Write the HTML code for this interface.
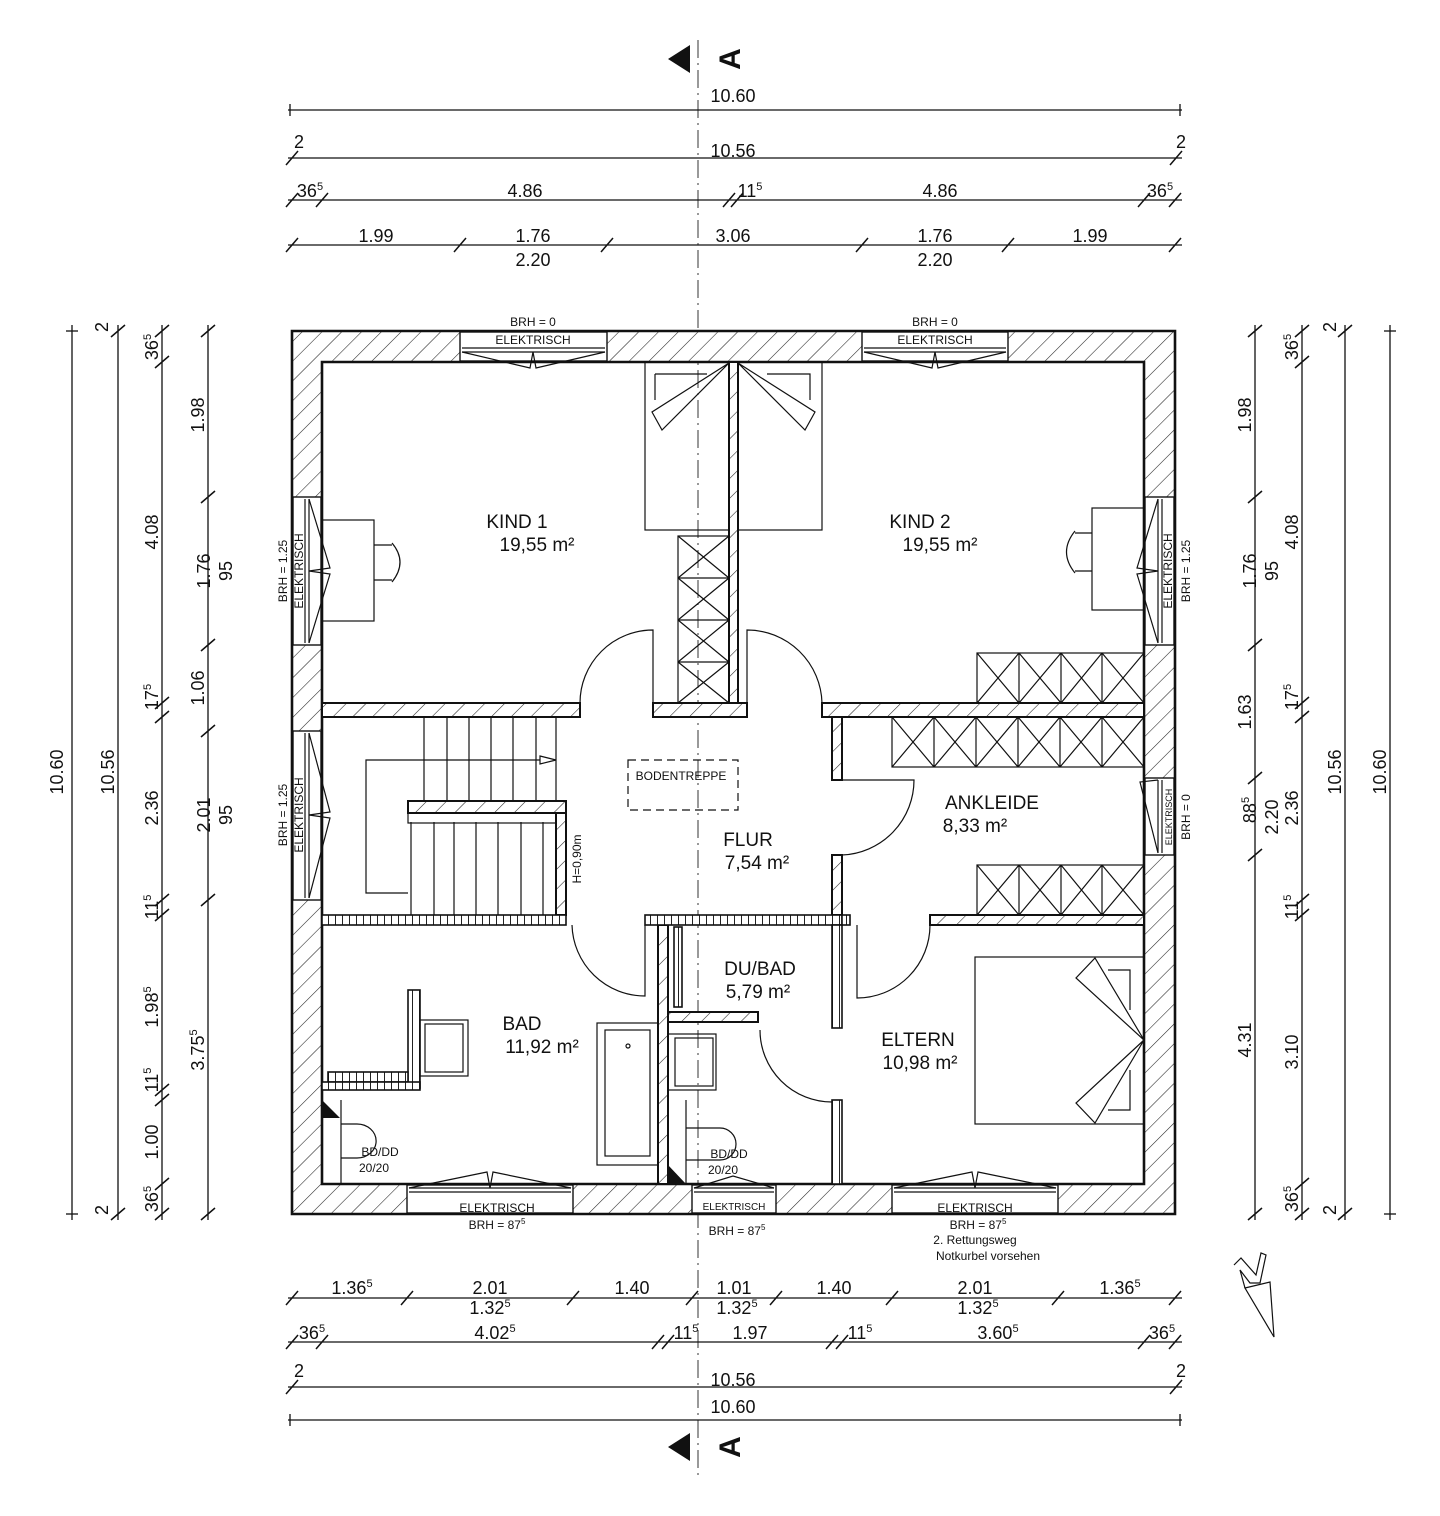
<!DOCTYPE html>
<html><head><meta charset="utf-8"><style>
html,body{margin:0;padding:0;background:#fff}
svg{display:block}
text{font-family:"Liberation Sans",Arial,sans-serif;fill:#111}
.d{font-size:18px;text-anchor:middle}
.r{font-size:19px;text-anchor:middle}
.s{font-size:12px;text-anchor:middle}
.t{stroke:#111;stroke-width:1.2;fill:none}
.k{stroke:#111;stroke-width:2.4;fill:none}
.dl{stroke:#111;stroke-width:1.3}
</style></head><body>
<svg width="1440" height="1516" viewBox="0 0 1440 1516" xmlns="http://www.w3.org/2000/svg">
<defs>
<pattern id="h" patternUnits="userSpaceOnUse" width="14" height="14" patternTransform="rotate(45)">
<rect width="14" height="14" fill="#fff"/><line x1="0" y1="0" x2="0" y2="14" stroke="#222" stroke-width="1.1"/>
</pattern>
<pattern id="c" patternUnits="userSpaceOnUse" width="7" height="7">
<rect width="7" height="7" fill="#fff"/><line x1="6.5" y1="0" x2="6.5" y2="7" stroke="#222" stroke-width="1"/>
</pattern>
<g id="tk"><line x1="-6" y1="7" x2="6" y2="-7" stroke="#111" stroke-width="1.5"/></g>
<g id="tv"><line x1="-7" y1="6" x2="7" y2="-6" stroke="#111" stroke-width="1.5"/></g>
</defs>

<line x1="698" y1="40" x2="698" y2="1475" stroke="#333" stroke-width="1" stroke-dasharray="18,5,2,5"/>
<polygon points="668,59 690,45 690,73" fill="#111"/>
<text x="0" y="0" font-size="30" font-weight="bold" transform="translate(740,59) rotate(-90)" text-anchor="middle">A</text>
<polygon points="668,1447 690,1433 690,1461" fill="#111"/>
<text x="0" y="0" font-size="30" font-weight="bold" transform="translate(740,1447) rotate(-90)" text-anchor="middle">A</text>

<!-- TOP DIMENSIONS -->
<line class="dl" x1="288" y1="110" x2="1182" y2="110"/>
<line class="dl" x1="290" y1="104" x2="290" y2="116"/><line class="dl" x1="1180" y1="104" x2="1180" y2="116"/>
<text class="d" x="733" y="102">10.60</text>
<line class="dl" x1="288" y1="158" x2="1182" y2="158" stroke-width="2"/>
<use href="#tk" x="292" y="158"/><use href="#tk" x="1176" y="158"/>
<text class="d" x="299" y="148">2</text><text class="d" x="1181" y="148">2</text>
<text class="d" x="733" y="157">10.56</text>
<line class="dl" x1="288" y1="200" x2="1182" y2="200" stroke-width="2"/>
<use href="#tk" x="292" y="200"/><use href="#tk" x="322" y="200"/><use href="#tk" x="729" y="200"/><use href="#tk" x="737" y="200"/><use href="#tk" x="1144" y="200"/><use href="#tk" x="1175" y="200"/>
<text class="d" x="310" y="197">36<tspan font-size="11" dy="-7">5</tspan></text>
<text class="d" x="525" y="197">4.86</text>
<text class="d" x="750" y="197">11<tspan font-size="11" dy="-7">5</tspan></text>
<text class="d" x="940" y="197">4.86</text>
<text class="d" x="1160" y="197">36<tspan font-size="11" dy="-7">5</tspan></text>
<line class="dl" x1="288" y1="245" x2="1182" y2="245" stroke-width="2"/>
<use href="#tk" x="292" y="245"/><use href="#tk" x="460" y="245"/><use href="#tk" x="607" y="245"/><use href="#tk" x="862" y="245"/><use href="#tk" x="1008" y="245"/><use href="#tk" x="1175" y="245"/>
<text class="d" x="376" y="242">1.99</text>
<text class="d" x="533" y="242">1.76</text><text class="d" x="533" y="266">2.20</text>
<text class="d" x="733" y="242">3.06</text>
<text class="d" x="935" y="242">1.76</text><text class="d" x="935" y="266">2.20</text>
<text class="d" x="1090" y="242">1.99</text>

<!-- BOTTOM DIMENSIONS -->
<line class="dl" x1="288" y1="1298" x2="1182" y2="1298" stroke-width="2"/>
<use href="#tk" x="292" y="1298"/><use href="#tk" x="407" y="1298"/><use href="#tk" x="573" y="1298"/><use href="#tk" x="692" y="1298"/><use href="#tk" x="776" y="1298"/><use href="#tk" x="892" y="1298"/><use href="#tk" x="1058" y="1298"/><use href="#tk" x="1175" y="1298"/>
<text class="d" x="352" y="1294">1.36<tspan font-size="11" dy="-7">5</tspan></text>
<text class="d" x="490" y="1294">2.01</text><text class="d" x="490" y="1314">1.32<tspan font-size="11" dy="-7">5</tspan></text>
<text class="d" x="632" y="1294">1.40</text>
<text class="d" x="734" y="1294">1.01</text><text class="d" x="737" y="1314">1.32<tspan font-size="11" dy="-7">5</tspan></text>
<text class="d" x="834" y="1294">1.40</text>
<text class="d" x="975" y="1294">2.01</text><text class="d" x="978" y="1314">1.32<tspan font-size="11" dy="-7">5</tspan></text>
<text class="d" x="1120" y="1294">1.36<tspan font-size="11" dy="-7">5</tspan></text>
<line class="dl" x1="288" y1="1342" x2="1182" y2="1342" stroke-width="2"/>
<use href="#tk" x="292" y="1342"/><use href="#tk" x="322" y="1342"/><use href="#tk" x="658" y="1342"/><use href="#tk" x="668" y="1342"/><use href="#tk" x="832" y="1342"/><use href="#tk" x="842" y="1342"/><use href="#tk" x="1144" y="1342"/><use href="#tk" x="1175" y="1342"/>
<text class="d" x="312" y="1339">36<tspan font-size="11" dy="-7">5</tspan></text>
<text class="d" x="495" y="1339">4.02<tspan font-size="11" dy="-7">5</tspan></text>
<text class="d" x="686" y="1339">11<tspan font-size="11" dy="-7">5</tspan></text>
<text class="d" x="750" y="1339">1.97</text>
<text class="d" x="860" y="1339">11<tspan font-size="11" dy="-7">5</tspan></text>
<text class="d" x="998" y="1339">3.60<tspan font-size="11" dy="-7">5</tspan></text>
<text class="d" x="1162" y="1339">36<tspan font-size="11" dy="-7">5</tspan></text>
<line class="dl" x1="288" y1="1387" x2="1182" y2="1387" stroke-width="2"/>
<use href="#tk" x="292" y="1387"/><use href="#tk" x="1176" y="1387"/>
<text class="d" x="299" y="1377">2</text><text class="d" x="1181" y="1377">2</text>
<text class="d" x="733" y="1386">10.56</text>
<line class="dl" x1="288" y1="1420" x2="1182" y2="1420"/>
<line class="dl" x1="290" y1="1414" x2="290" y2="1426"/><line class="dl" x1="1180" y1="1414" x2="1180" y2="1426"/>
<text class="d" x="733" y="1413">10.60</text>

<!-- LEFT DIMENSIONS -->
<line class="dl" x1="72" y1="325" x2="72" y2="1220"/>
<line class="dl" x1="66" y1="331" x2="78" y2="331"/><line class="dl" x1="66" y1="1214" x2="78" y2="1214"/>
<text class="d" transform="translate(63,772) rotate(-90)">10.60</text>
<line class="dl" x1="118" y1="325" x2="118" y2="1220" stroke-width="2"/>
<use href="#tv" x="118" y="331"/><use href="#tv" x="118" y="1214"/>
<text class="d" transform="translate(108,327) rotate(-90)">2</text><text class="d" transform="translate(108,1210) rotate(-90)">2</text>
<text class="d" transform="translate(114,772) rotate(-90)">10.56</text>
<line class="dl" x1="162" y1="325" x2="162" y2="1220" stroke-width="2"/>
<use href="#tv" x="162" y="331"/><use href="#tv" x="162" y="362"/><use href="#tv" x="162" y="703"/><use href="#tv" x="162" y="717"/><use href="#tv" x="162" y="900"/><use href="#tv" x="162" y="915"/><use href="#tv" x="162" y="1090"/><use href="#tv" x="162" y="1100"/><use href="#tv" x="162" y="1184"/><use href="#tv" x="162" y="1214"/>
<g class="d">
<text transform="translate(158,347) rotate(-90)">36<tspan font-size="11" dy="-7">5</tspan></text>
<text transform="translate(158,532) rotate(-90)">4.08</text>
<text transform="translate(158,697) rotate(-90)">17<tspan font-size="11" dy="-7">5</tspan></text>
<text transform="translate(158,808) rotate(-90)">2.36</text>
<text transform="translate(158,907) rotate(-90)">11<tspan font-size="11" dy="-7">5</tspan></text>
<text transform="translate(158,1007) rotate(-90)">1.98<tspan font-size="11" dy="-7">5</tspan></text>
<text transform="translate(158,1080) rotate(-90)">11<tspan font-size="11" dy="-7">5</tspan></text>
<text transform="translate(158,1142) rotate(-90)">1.00</text>
<text transform="translate(158,1199) rotate(-90)">36<tspan font-size="11" dy="-7">5</tspan></text>
</g>
<line class="dl" x1="208" y1="325" x2="208" y2="1220" stroke-width="2"/>
<use href="#tv" x="208" y="331"/><use href="#tv" x="208" y="497"/><use href="#tv" x="208" y="645"/><use href="#tv" x="208" y="731"/><use href="#tv" x="208" y="900"/><use href="#tv" x="208" y="1214"/>
<g class="d">
<text transform="translate(204,415) rotate(-90)">1.98</text>
<text transform="translate(210,571) rotate(-90)">1.76</text><text transform="translate(232,571) rotate(-90)">95</text>
<text transform="translate(204,688) rotate(-90)">1.06</text>
<text transform="translate(210,815) rotate(-90)">2.01</text><text transform="translate(232,815) rotate(-90)">95</text>
<text transform="translate(204,1050) rotate(-90)">3.75<tspan font-size="11" dy="-7">5</tspan></text>
</g>

<!-- RIGHT DIMENSIONS -->
<line class="dl" x1="1255" y1="325" x2="1255" y2="1220" stroke-width="2"/>
<use href="#tv" x="1255" y="331"/><use href="#tv" x="1255" y="497"/><use href="#tv" x="1255" y="645"/><use href="#tv" x="1255" y="778"/><use href="#tv" x="1255" y="855"/><use href="#tv" x="1255" y="1214"/>
<g class="d">
<text transform="translate(1251,415) rotate(-90)">1.98</text>
<text transform="translate(1256,571) rotate(-90)">1.76</text><text transform="translate(1278,571) rotate(-90)">95</text>
<text transform="translate(1251,712) rotate(-90)">1.63</text>
<text transform="translate(1256,810) rotate(-90)">88<tspan font-size="11" dy="-7">5</tspan></text><text transform="translate(1278,817) rotate(-90)">2.20</text>
<text transform="translate(1251,1040) rotate(-90)">4.31</text>
</g>
<line class="dl" x1="1302" y1="325" x2="1302" y2="1220" stroke-width="2"/>
<use href="#tv" x="1302" y="331"/><use href="#tv" x="1302" y="362"/><use href="#tv" x="1302" y="703"/><use href="#tv" x="1302" y="717"/><use href="#tv" x="1302" y="900"/><use href="#tv" x="1302" y="915"/><use href="#tv" x="1302" y="1184"/><use href="#tv" x="1302" y="1214"/>
<g class="d">
<text transform="translate(1298,347) rotate(-90)">36<tspan font-size="11" dy="-7">5</tspan></text>
<text transform="translate(1298,532) rotate(-90)">4.08</text>
<text transform="translate(1298,697) rotate(-90)">17<tspan font-size="11" dy="-7">5</tspan></text>
<text transform="translate(1298,808) rotate(-90)">2.36</text>
<text transform="translate(1298,907) rotate(-90)">11<tspan font-size="11" dy="-7">5</tspan></text>
<text transform="translate(1298,1052) rotate(-90)">3.10</text>
<text transform="translate(1298,1199) rotate(-90)">36<tspan font-size="11" dy="-7">5</tspan></text>
</g>
<line class="dl" x1="1345" y1="325" x2="1345" y2="1220" stroke-width="2"/>
<use href="#tv" x="1345" y="331"/><use href="#tv" x="1345" y="1214"/>
<text class="d" transform="translate(1336,327) rotate(-90)">2</text><text class="d" transform="translate(1336,1210) rotate(-90)">2</text>
<text class="d" transform="translate(1341,772) rotate(-90)">10.56</text>
<line class="dl" x1="1390" y1="325" x2="1390" y2="1220"/>
<line class="dl" x1="1384" y1="331" x2="1396" y2="331"/><line class="dl" x1="1384" y1="1214" x2="1396" y2="1214"/>
<text class="d" transform="translate(1386,772) rotate(-90)">10.60</text>

<!-- OUTER WALL -->
<path d="M292,331H1175V1214H292Z M322,362V1184H1144V362Z" fill="url(#h)" fill-rule="evenodd" stroke="#111" stroke-width="2.6"/>
<g fill="#fff" stroke="#111" stroke-width="1.4">
<rect x="460" y="332" width="147" height="29"/><rect x="862" y="332" width="146" height="29"/>
<rect x="407" y="1185" width="166" height="28"/><rect x="692" y="1185" width="84" height="28"/><rect x="892" y="1185" width="166" height="28"/>
<rect x="293" y="497" width="28" height="148"/><rect x="293" y="731" width="28" height="169"/>
<rect x="1145" y="497" width="29" height="148"/><rect x="1145" y="778" width="29" height="77"/>
</g>
<g class="t">
<line x1="462" y1="348" x2="605" y2="348"/><line x1="462" y1="352" x2="605" y2="352"/>
<path d="M462,352 L530,368 L533,352 L536,368 L605,352"/>
<line x1="864" y1="348" x2="1006" y2="348"/><line x1="864" y1="352" x2="1006" y2="352"/>
<path d="M864,352 L932,368 L935,352 L938,368 L1006,352"/>
<line x1="409" y1="1188" x2="571" y2="1188"/><line x1="409" y1="1192" x2="571" y2="1192"/>
<path d="M409,1188 L487,1172 L490,1188 L493,1172 L571,1188"/>
<line x1="694" y1="1188" x2="774" y2="1188"/><line x1="694" y1="1192" x2="774" y2="1192"/>
<path d="M694,1188 L733,1176 L774,1188"/>
<line x1="894" y1="1188" x2="1056" y2="1188"/><line x1="894" y1="1192" x2="1056" y2="1192"/>
<path d="M894,1188 L972,1172 L975,1188 L978,1172 L1056,1188"/>
<line x1="305" y1="499" x2="305" y2="643"/><line x1="309" y1="499" x2="309" y2="643"/>
<path d="M309,499 L330,568 L309,571 L330,574 L309,643"/>
<line x1="305" y1="733" x2="305" y2="898"/><line x1="309" y1="733" x2="309" y2="898"/>
<path d="M309,733 L330,812 L309,815 L330,818 L309,898"/>
<line x1="1158" y1="499" x2="1158" y2="643"/><line x1="1162" y1="499" x2="1162" y2="643"/>
<path d="M1158,499 L1137,568 L1158,571 L1137,574 L1158,643"/>
<line x1="1158" y1="780" x2="1158" y2="853"/><line x1="1162" y1="780" x2="1162" y2="853"/>
<path d="M1158,780 L1140,782 L1158,853"/>
</g>
<g class="s">
<text x="533" y="326">BRH = 0</text><text x="533" y="344">ELEKTRISCH</text>
<text x="935" y="326">BRH = 0</text><text x="935" y="344">ELEKTRISCH</text>
<text x="497" y="1212">ELEKTRISCH</text><text x="497" y="1229">BRH = 87<tspan font-size="8" dy="-5">5</tspan></text>
<text x="734" y="1210" font-size="10">ELEKTRISCH</text><text x="737" y="1235">BRH = 87<tspan font-size="8" dy="-5">5</tspan></text>
<text x="975" y="1212">ELEKTRISCH</text><text x="978" y="1229">BRH = 87<tspan font-size="8" dy="-5">5</tspan></text>
<text x="975" y="1244">2. Rettungsweg</text><text x="988" y="1260">Notkurbel vorsehen</text>
<text transform="translate(303,571) rotate(-90)">ELEKTRISCH</text><text transform="translate(287,571) rotate(-90)">BRH = 1.25</text>
<text transform="translate(303,815) rotate(-90)">ELEKTRISCH</text><text transform="translate(287,815) rotate(-90)">BRH = 1.25</text>
<text transform="translate(1172,571) rotate(-90)">ELEKTRISCH</text><text transform="translate(1190,571) rotate(-90)">BRH = 1.25</text>
<text transform="translate(1172,817) rotate(-90)" font-size="9">ELEKTRISCH</text><text transform="translate(1190,817) rotate(-90)">BRH = 0</text>
</g>

<!-- INTERIOR WALLS -->
<g fill="url(#h)" stroke="#111" stroke-width="2">
<rect x="322" y="703" width="258" height="14"/>
<rect x="653" y="703" width="94" height="14"/>
<rect x="822" y="703" width="322" height="14"/>
<rect x="729" y="362" width="9" height="341"/>
<rect x="556" y="813" width="10" height="102"/>
<rect x="408" y="801" width="158" height="12"/>
<rect x="832" y="717" width="10" height="63"/>
<rect x="832" y="855" width="10" height="60"/>
<rect x="930" y="915" width="214" height="10"/>
<rect x="658" y="925" width="10" height="259"/>
<rect x="668" y="1012" width="90" height="10"/>
</g>
<g fill="url(#c)" stroke="#111" stroke-width="1.6">
<rect x="322" y="915" width="244" height="10"/>
<rect x="645" y="915" width="197" height="10"/>
<rect x="832" y="925" width="10" height="103"/>
<rect x="832" y="1100" width="10" height="84"/>
<rect x="842" y="915" width="8" height="10"/>
<rect x="408" y="990" width="12" height="98"/>
<rect x="328" y="1072" width="80" height="10"/>
<rect x="322" y="1082" width="98" height="8"/>
<rect x="674" y="927" width="8" height="80"/>
</g>

<g class="t">
<rect x="645" y="362" width="84" height="168"/>
<path d="M655,374 H707" /><path d="M655,374 V400"/>
<path d="M729,363 L652,412 L662,430 Z"/>
<rect x="678" y="536" width="51" height="167"/>
<path d="M678,536 L729,578 M729,536 L678,578 M678,578 L729,620 M729,578 L678,620 M678,620 L729,662 M729,620 L678,662 M678,662 L729,703 M729,662 L678,703"/>
<line x1="678" y1="578" x2="729" y2="578"/><line x1="678" y1="620" x2="729" y2="620"/><line x1="678" y1="662" x2="729" y2="662"/>
<rect x="322" y="520" width="52" height="101"/>
<path d="M374,545 H392 M374,580 H392"/><path d="M392,543 Q408,562 392,582"/>
<path d="M653,703 V630 A73,73 0 0 0 580,703"/>
<rect x="738" y="362" width="84" height="168"/>
<path d="M767,374 H810 V400"/>
<path d="M738,363 L815,412 L805,430 Z"/>
<rect x="1092" y="508" width="52" height="102"/>
<path d="M1092,533 H1075 M1092,571 H1075"/><path d="M1075,531 Q1058,552 1075,573"/>
<rect x="977" y="653" width="167" height="50"/>
<path d="M977,653 L1019,703 M1019,653 L977,703 M1019,653 L1061,703 M1061,653 L1019,703 M1061,653 L1102,703 M1102,653 L1061,703 M1102,653 L1144,703 M1144,653 L1102,703"/>
<line x1="1019" y1="653" x2="1019" y2="703"/><line x1="1061" y1="653" x2="1061" y2="703"/><line x1="1102" y1="653" x2="1102" y2="703"/>
<path d="M747,703 V630 A75,75 0 0 1 822,703"/>
<path d="M424,717 V801 M447,717 V801 M469,717 V801 M491,717 V801 M513,717 V801 M536,717 V801 M556,717 V801"/>
<path d="M411,822 V915 M434,822 V915 M454,822 V915 M476,822 V915 M498,822 V915 M521,822 V915 M543,822 V915"/>
<rect x="408" y="813" width="148" height="10"/>
<path d="M540,760 H366 V893 H408"/>
<path d="M540,756 L556,760 L540,764 Z"/>
<rect x="628" y="760" width="110" height="50" stroke-dasharray="8,5"/>
<path d="M842,780 H914 A75,75 0 0 1 842,855"/>
<rect x="892" y="717" width="252" height="50"/>
<path d="M892,717 L934,767 M934,717 L892,767 M934,717 L976,767 M976,717 L934,767 M976,717 L1018,767 M1018,717 L976,767 M1018,717 L1060,767 M1060,717 L1018,767 M1060,717 L1102,767 M1102,717 L1060,767 M1102,717 L1144,767 M1144,717 L1102,767 M934,717 V767 M976,717 V767 M1018,717 V767 M1060,717 V767 M1102,717 V767"/>
<rect x="977" y="865" width="167" height="50"/>
<path d="M977,865 L1019,915 M1019,865 L977,915 M1019,865 L1061,915 M1061,865 L1019,915 M1061,865 L1102,915 M1102,865 L1061,915 M1102,865 L1144,915 M1144,865 L1102,915 M1019,865 V915 M1061,865 V915 M1102,865 V915"/>
<rect x="975" y="957" width="169" height="167"/>
<path d="M1108,970 H1130 V1010 M1108,1110 H1130 V1070"/>
<path d="M1144,1040 L1095,958 L1076,978 Z M1144,1040 L1095,1123 L1076,1103 Z"/>
<path d="M857,925 V998 A73,73 0 0 0 930,925"/>
<path d="M645,925 V996 A73,73 0 0 1 572,925"/>
<rect x="420" y="1020" width="48" height="56"/><rect x="425" y="1024" width="38" height="48"/>
<rect x="597" y="1023" width="61" height="142"/><rect x="605" y="1030" width="45" height="126"/>
<circle cx="628" cy="1046" r="2"/>
<path d="M341,1124 H357 A18,16 0 0 1 357,1158 H341 Z M341,1100 V1184"/>
<rect x="668" y="1034" width="48" height="56"/><rect x="675" y="1038" width="38" height="48"/>
<path d="M686,1128 H720 A16,16 0 0 1 720,1160 H686 M686,1100 V1184"/>
<path d="M760,1030 A72,72 0 0 0 832,1102"/>
</g>
<polygon points="322,1100 340,1118 322,1118" fill="#111"/>
<polygon points="668,1165 686,1184 668,1184" fill="#111"/>

<text class="r" x="517" y="528">KIND 1</text><text class="r" x="537" y="551">19,55 m²</text>
<text class="r" x="920" y="528">KIND 2</text><text class="r" x="940" y="551">19,55 m²</text>
<text class="r" x="748" y="846">FLUR</text><text class="r" x="757" y="869">7,54 m²</text>
<text class="r" x="992" y="809">ANKLEIDE</text><text class="r" x="975" y="832">8,33 m²</text>
<text class="r" x="760" y="975">DU/BAD</text><text class="r" x="758" y="998">5,79 m²</text>
<text class="r" x="522" y="1030">BAD</text><text class="r" x="542" y="1053">11,92 m²</text>
<text class="r" x="918" y="1046">ELTERN</text><text class="r" x="920" y="1069">10,98 m²</text>
<g class="s" font-size="13">
<text x="681" y="780">BODENTREPPE</text>
<text transform="translate(581,859) rotate(-90)">H=0,90m</text>
<text x="380" y="1156">BD/DD</text><text x="374" y="1172">20/20</text>
<text x="729" y="1158">BD/DD</text><text x="723" y="1174">20/20</text>
</g>

<g class="t" stroke-width="1.5">
<path d="M1234,1265 L1241,1258 L1256,1275 L1261,1253 L1266,1255 L1260,1283 L1250,1283 L1240,1270 L1245,1288"/>
<path d="M1245,1288 L1270,1282 L1274,1337 Z"/>
</g>
</svg>
</body></html>
